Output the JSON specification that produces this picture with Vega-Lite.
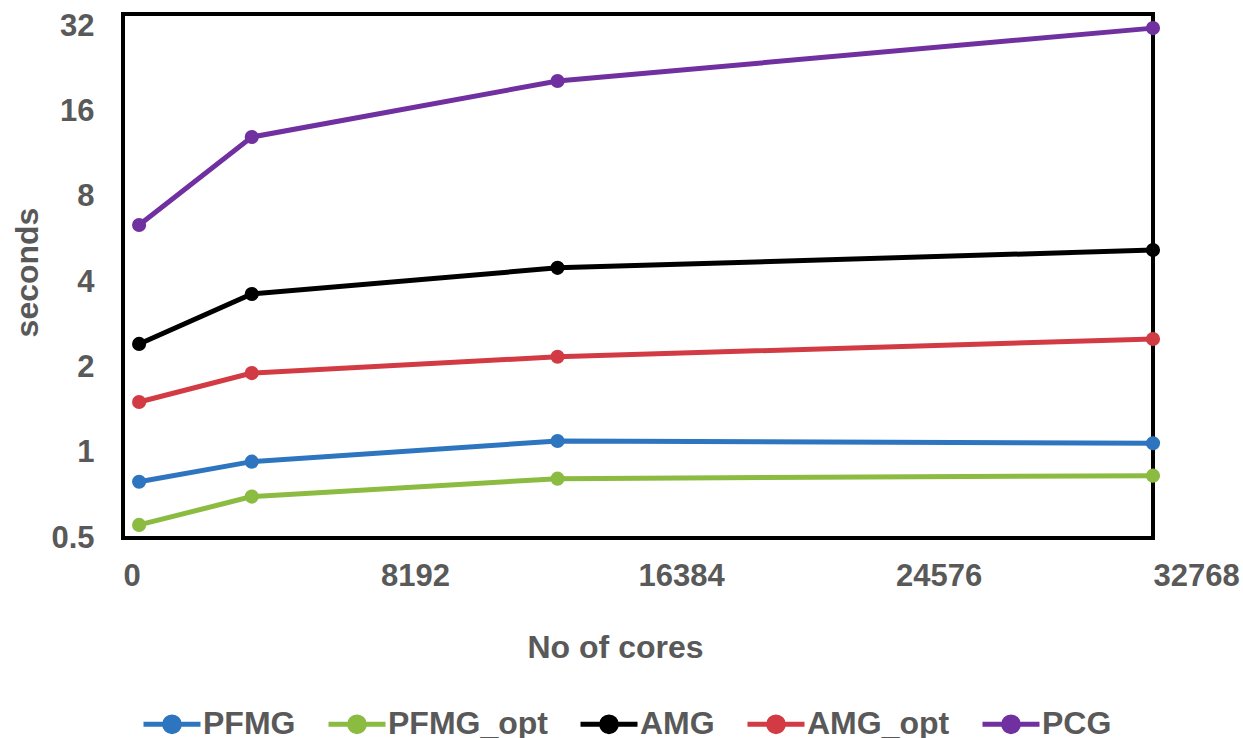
{
  "$schema": "https://vega.github.io/schema/vega-lite/v6.json",
  "autosize": "none",
  "width": 1030,
  "height": 524,
  "padding": {"left": 123, "top": 14, "right": 90, "bottom": 200},
  "background": "white",
  "config": {
    "view": {"stroke": "black", "strokeWidth": 4},
    "font": "Liberation Sans"
  },
  "data": {
    "values": [
      {"cores": 512, "method": "PFMG", "seconds": 0.79},
      {"cores": 4096, "method": "PFMG", "seconds": 0.93},
      {"cores": 13824, "method": "PFMG", "seconds": 1.10},
      {"cores": 32768, "method": "PFMG", "seconds": 1.08},
      {"cores": 512, "method": "PFMG_opt", "seconds": 0.556},
      {"cores": 4096, "method": "PFMG_opt", "seconds": 0.70},
      {"cores": 13824, "method": "PFMG_opt", "seconds": 0.81},
      {"cores": 32768, "method": "PFMG_opt", "seconds": 0.83},
      {"cores": 512, "method": "AMG", "seconds": 2.42},
      {"cores": 4096, "method": "AMG", "seconds": 3.63},
      {"cores": 13824, "method": "AMG", "seconds": 4.49},
      {"cores": 32768, "method": "AMG", "seconds": 5.19},
      {"cores": 512, "method": "AMG_opt", "seconds": 1.51},
      {"cores": 4096, "method": "AMG_opt", "seconds": 1.91},
      {"cores": 13824, "method": "AMG_opt", "seconds": 2.18},
      {"cores": 32768, "method": "AMG_opt", "seconds": 2.52},
      {"cores": 512, "method": "PCG", "seconds": 6.36},
      {"cores": 4096, "method": "PCG", "seconds": 13.0},
      {"cores": 13824, "method": "PCG", "seconds": 20.5},
      {"cores": 32768, "method": "PCG", "seconds": 31.5}
    ]
  },
  "encoding": {
    "x": {
      "field": "cores",
      "type": "quantitative",
      "scale": {"domain": [0, 32768], "nice": false, "zero": false},
      "axis": {
        "title": "No of cores",
        "values": [0, 8192, 16384, 24576, 32768],
        "labelExpr": "'' + datum.value",
        "grid": false,
        "domain": false,
        "ticks": false,
        "labelAlign": "left",
        "labelBaseline": "middle",
        "labelPadding": 38,
        "labelFlush": false,
        "labelOverlap": false,
        "labelFont": "Liberation Sans",
        "labelFontSize": 31,
        "labelFontWeight": "bold",
        "labelColor": "#595959",
        "titleFont": "Liberation Sans",
        "titleFontSize": 32,
        "titleFontWeight": "bold",
        "titleColor": "#595959",
        "titleX": 492,
        "titleY": 109,
        "titleAlign": "center",
        "titleBaseline": "middle",
        "titleAnchor": "start"
      }
    },
    "y": {
      "field": "seconds",
      "type": "quantitative",
      "scale": {"type": "log", "base": 2, "domain": [0.5, 35.33], "nice": false},
      "axis": {
        "title": "seconds",
        "values": [0.5, 1, 2, 4, 8, 16, 32],
        "labelExpr": "'' + datum.value",
        "grid": false,
        "domain": false,
        "ticks": false,
        "labelPadding": 29,
        "labelBaseline": "middle",
        "labelFlush": false,
        "labelOverlap": false,
        "labelFont": "Liberation Sans",
        "labelFontSize": 31,
        "labelFontWeight": "bold",
        "labelColor": "#595959",
        "titleFont": "Liberation Sans",
        "titleFontSize": 32,
        "titleFontWeight": "bold",
        "titleColor": "#595959",
        "titleX": -96,
        "titleY": 258,
        "titleAngle": -90,
        "titleAlign": "center",
        "titleBaseline": "middle",
        "titleAnchor": "start"
      }
    }
  },
  "layer": [
    {
      "mark": {"type": "line", "strokeWidth": 5, "clip": false},
      "encoding": {
        "color": {
          "field": "method",
          "type": "nominal",
          "scale": {
            "domain": ["PFMG", "PFMG_opt", "AMG", "AMG_opt", "PCG"],
            "range": ["#2E75C0", "#8BBB41", "#000000", "#D23B44", "#7030A0"]
          },
          "legend": {
            "title": null,
            "orient": "none",
            "direction": "horizontal",
            "legendX": 18,
            "legendY": 679,
            "padding": 0,
            "columnPadding": 22,
            "labelOffset": 0,
            "labelFont": "Liberation Sans",
            "labelFontSize": 32,
            "labelFontWeight": "bold",
            "labelColor": "#595959",
            "symbolType": "M-1,0L1,0M-0.26,0A0.26,0.26,0,1,1,0.26,0A0.26,0.26,0,1,1,-0.26,0Z",
            "symbolSize": 3249,
            "symbolStrokeWidth": 5,
            "encode": {
              "symbols": {
                "update": {
                  "fill": {"scale": "color", "field": "value"},
                  "stroke": {"scale": "color", "field": "value"},
                  "fillOpacity": {"value": 1},
                  "opacity": {"value": 1}
                }
              }
            }
          }
        }
      }
    },
    {
      "mark": {"type": "point", "filled": true, "size": 200, "opacity": 1, "clip": false},
      "encoding": {
        "color": {"field": "method", "type": "nominal", "legend": null}
      }
    }
  ]
}
